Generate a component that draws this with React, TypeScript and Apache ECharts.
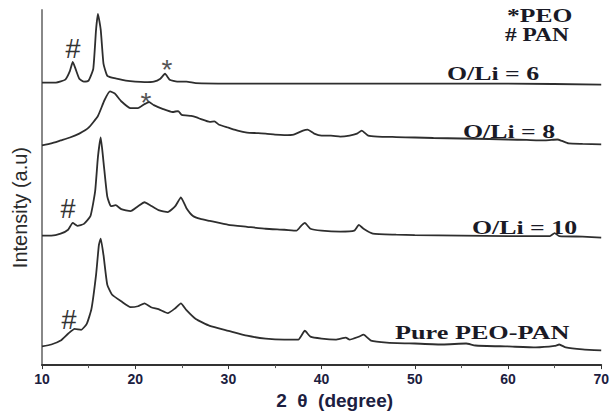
import React, { useEffect, useRef } from "react";
import * as echarts from "echarts";

// 2θ (degree), intensity (a.u.) pairs (traces stacked with offsets)
const oli6: [number, number][] = [
  [10, 288], [11.5, 288], [12.5, 291], [13, 300], [13.3, 309], [13.6, 302], [14, 292], [14.5, 289],
  [15, 290], [15.5, 302], [15.8, 342], [16, 358], [16.3, 342], [16.6, 307], [17, 295], [17.5, 293],
  [18, 292], [18.5, 291], [19, 290], [20, 289], [21, 288.5], [22, 289], [22.7, 292], [23.2, 297],
  [23.7, 291], [24.5, 289], [25.5, 289], [26.5, 287.5], [30, 287], [40, 287], [50, 287], [60, 287], [70, 286],
];

const oli8: [number, number][] = [
  [10, 224], [11, 226], [12, 229], [13, 232], [14, 236], [15, 242], [16, 254], [16.7, 270], [17.3, 279],
  [17.8, 277], [18.5, 269], [19.5, 262], [20.3, 262], [21, 266], [21.5, 268], [22, 265], [23, 261],
  [24, 258], [24.6, 259], [25, 255], [26, 254], [26.6, 252.5], [27, 251], [28, 248], [28.5, 248.5],
  [29, 245], [30, 242], [31, 239], [32, 237], [33, 236.5], [34, 236], [35, 235], [36, 234.5], [37, 235],
  [38, 239], [38.5, 240], [39.2, 236], [40, 234], [41, 234], [42, 233], [43, 234], [43.8, 236],
  [44.3, 239], [45, 234], [46, 233], [48, 232.5], [50, 232], [52, 231.5], [55, 231], [58, 230.5],
  [60, 230], [62, 229.5], [64, 229], [65.3, 230], [65.8, 228.5], [66.5, 226], [68, 225.5], [70, 225],
];

const oli10: [number, number][] = [
  [10, 132], [11, 132], [12, 134], [12.8, 138], [13.3, 145], [13.8, 142], [14.5, 144], [15.2, 152],
  [15.7, 177], [16, 212], [16.3, 232], [16.6, 207], [17, 172], [17.4, 162], [17.9, 163], [18.5, 159],
  [19.5, 157], [20.3, 162], [21, 166], [21.6, 163], [22.5, 158], [23.5, 156], [24.3, 162], [24.9, 171],
  [25.5, 160], [26.2, 152], [27, 149], [28, 147], [30, 143], [32, 141], [34, 139], [36, 138],
  [37.3, 137], [37.8, 142], [38.2, 145], [38.8, 139], [40, 137], [42, 136], [43.5, 137], [44, 143],
  [44.5, 139], [45.5, 134], [48, 133], [50, 132.5], [55, 132], [60, 131.5], [64.5, 131.5], [65, 134.5],
  [65.5, 131.5], [68, 131], [70, 130],
];

const pure: [number, number][] = [
  [10, 19], [11, 21], [12, 25], [12.8, 32], [13.5, 37], [14.2, 36], [14.8, 42], [15.3, 57], [15.8, 92],
  [16.1, 122], [16.3, 129], [16.6, 112], [17, 82], [17.5, 72], [18.5, 65], [19.5, 59], [20.3, 60],
  [21, 63], [21.7, 59], [22.5, 57], [23.5, 53], [24.3, 58], [24.9, 63], [25.5, 56], [26.5, 47],
  [28, 40], [30, 35], [32, 30], [34, 27], [36, 26], [37.5, 26], [38.2, 35], [38.8, 29], [40, 27],
  [41.5, 26], [42.6, 28], [43, 26], [44, 29], [44.5, 31], [45.3, 25], [47, 23], [50, 22], [53, 21],
  [55.5, 22], [56.5, 20], [60, 19], [63, 18], [65, 19.5], [65.5, 21], [66.2, 18], [68, 16], [70, 15],
];

const seriesNames = ["O/Li = 6", "O/Li = 8", "O/Li = 10", "Pure PEO-PAN"];
const seriesData = [oli6, oli8, oli10, pure];
const xTicks = { min: 10, max: 70, interval: 10 };

const serif = "'Liberation Serif', 'Times New Roman', serif";
const sans = "'Liberation Sans', Arial, sans-serif";

export default function App() {
  const ref = useRef<HTMLDivElement>(null);
  useEffect(() => {
    if (!ref.current) return;
    const chart = echarts.init(ref.current, undefined, { renderer: "svg" });
    const label = (text: string, x: number, y: number, size = 19, sx = 1.38) => ({
      type: "text",
      x,
      y,
      scaleX: sx,
      style: {
        text,
        font: `bold ${size}px ${serif}`,
        fill: "#1a1a26",
        align: "left",
        verticalAlign: "middle",
      },
    });
    const mark = (text: string, x: number, y: number, size: number, color = "#333") => ({
      type: "text",
      x,
      y,
      style: {
        text,
        font: `${size}px ${sans}`,
        fill: color,
        align: "center",
        verticalAlign: "middle",
      },
    });
    chart.setOption({
      animation: false,
      backgroundColor: "#ffffff",
      grid: { left: 42, right: 10, top: 10, bottom: 43 },
      xAxis: {
        type: "value",
        min: xTicks.min,
        max: xTicks.max,
        interval: xTicks.interval,
        name: "2  θ  (degree)",
        nameLocation: "middle",
        nameGap: 23,
        nameTextStyle: {
          fontFamily: sans,
          fontWeight: "bold",
          fontSize: 19,
          color: "#1c2040",
          padding: [0, 0, 0, 26],
        },
        axisLine: { lineStyle: { color: "#333", width: 2 } },
        axisTick: { show: true, length: 4, lineStyle: { color: "#333" } },
        minorTick: { show: true, splitNumber: 2, length: 3, lineStyle: { color: "#555" } },
        axisLabel: {
          fontFamily: sans,
          fontWeight: "bold",
          fontSize: 14,
          color: "#1c2040",
          margin: 7,
        },
        splitLine: { show: false },
      },
      yAxis: {
        type: "value",
        min: 0,
        max: 362,
        name: "Intensity (a.u)",
        nameLocation: "middle",
        nameGap: 12,
        nameTextStyle: {
          fontFamily: sans,
          fontSize: 20,
          color: "#2a2a2a",
          padding: [0, 40, 0, 0],
        },
        axisLine: { show: true, lineStyle: { color: "#888", width: 2 } },
        axisTick: { show: false },
        axisLabel: { show: false },
        splitLine: { show: false },
      },
      series: seriesData.map((d, i) => ({
        type: "line",
        name: seriesNames[i],
        data: d,
        showSymbol: false,
        smooth: 0.15,
        lineStyle: { color: "#2e2e2e", width: 1.8 },
      })),
      graphic: [
        label("*PEO", 507, 16, 18, 1.42),
        label("# PAN", 505, 35, 18, 1.3),
        label(seriesNames[0], 447, 74, 19, 1.36),
        label(seriesNames[1], 463, 132, 19, 1.36),
        label(seriesNames[2], 472, 228, 19, 1.36),
        label(seriesNames[3], 395, 333, 19, 1.38),
        mark("#", 73, 49, 27),
        mark("#", 68, 209, 27),
        mark("#", 69, 320, 27),
        mark("*", 167, 69, 28, "#555"),
        mark("*", 146, 102, 28, "#555"),
      ],
    });
    return () => chart.dispose();
  }, []);
  return (
    <div
      ref={ref}
      style={{ position: "absolute", left: 0, top: 0, width: 612, height: 415 }}
    />
  );
}
